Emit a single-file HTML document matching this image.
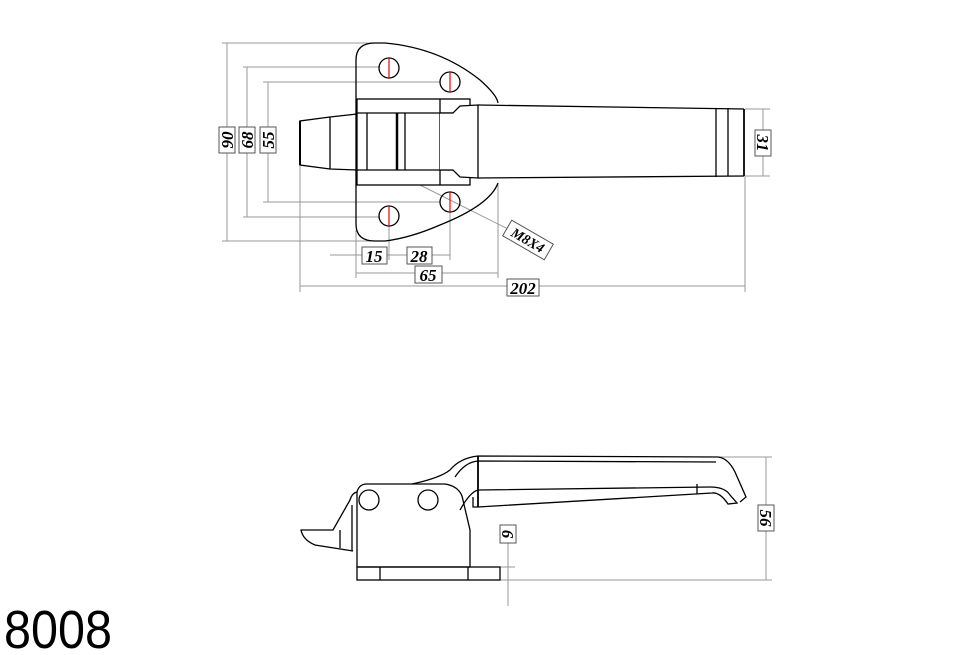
<!DOCTYPE html>
<html><head><meta charset="utf-8"><style>
html,body{margin:0;padding:0;background:#fff;}
svg{display:block}
.d{font-family:"Liberation Serif",serif;font-style:italic;font-weight:bold;}
</style></head><body>
<svg width="978" height="655" viewBox="0 0 978 655" xmlns="http://www.w3.org/2000/svg">
<g fill="none" stroke="#999" stroke-width="1">
 <line x1="222" y1="43" x2="380" y2="43"/>
 <line x1="222" y1="241" x2="380" y2="241"/>
 <line x1="227" y1="43" x2="227" y2="241"/>
 <line x1="243" y1="67" x2="380" y2="67"/>
 <line x1="243" y1="217" x2="380" y2="217"/>
 <line x1="247" y1="67" x2="247" y2="217"/>
 <line x1="263" y1="82" x2="440" y2="82"/>
 <line x1="263" y1="202" x2="440" y2="202"/>
 <line x1="268" y1="82" x2="268" y2="202"/>
 <line x1="300" y1="166" x2="300" y2="292"/>
 <line x1="300" y1="286" x2="745" y2="286"/>
 <line x1="745" y1="176" x2="745" y2="292"/>
 <line x1="356" y1="230" x2="356" y2="278"/>
 <line x1="356" y1="273" x2="498" y2="273"/>
 <line x1="498" y1="183" x2="498" y2="278"/>
 <line x1="330" y1="255" x2="450" y2="255"/>
 <line x1="389" y1="225" x2="389" y2="260"/>
 <line x1="450" y1="210" x2="450" y2="260"/>
 <line x1="745" y1="109" x2="770" y2="109"/>
 <line x1="745" y1="176" x2="770" y2="176"/>
 <line x1="763" y1="109" x2="763" y2="176"/>
 <line x1="420" y1="185" x2="510" y2="230"/>
 <line x1="718" y1="457" x2="772" y2="457"/>
 <line x1="500" y1="580" x2="772" y2="580"/>
 <line x1="766" y1="457" x2="766" y2="580"/>
 <line x1="500" y1="567" x2="515" y2="567"/>
 <line x1="508" y1="540" x2="508" y2="606"/>
</g>
<g class="d" font-size="17" fill="#000" stroke="none">
 <rect x="219" y="127" width="16" height="26" fill="#fff" stroke="#555"/>
 <text transform="translate(233,140) rotate(-90)" text-anchor="middle">90</text>
 <rect x="239" y="127" width="16" height="26" fill="#fff" stroke="#555"/>
 <text transform="translate(253,140) rotate(-90)" text-anchor="middle">68</text>
 <rect x="260" y="127" width="16" height="26" fill="#fff" stroke="#555"/>
 <text transform="translate(274,140) rotate(-90)" text-anchor="middle">55</text>
 <rect x="755" y="130" width="16" height="26" fill="#fff" stroke="#555"/>
 <text transform="translate(757,143) rotate(90)" text-anchor="middle">31</text>
 <rect x="362" y="247" width="25" height="17" fill="#fff" stroke="#555"/>
 <text x="374" y="262" text-anchor="middle">15</text>
 <rect x="407" y="247" width="25" height="17" fill="#fff" stroke="#555"/>
 <text x="419" y="262" text-anchor="middle">28</text>
 <rect x="415" y="266" width="27" height="17" fill="#fff" stroke="#555"/>
 <text x="428" y="281" text-anchor="middle">65</text>
 <rect x="507" y="279" width="32" height="17" fill="#fff" stroke="#555"/>
 <text x="523" y="294" text-anchor="middle">202</text>
 <g transform="translate(528,240) rotate(30)">
  <rect x="-24" y="-9" width="48" height="18" fill="#fff" stroke="#555"/>
  <text x="0" y="5" text-anchor="middle" font-size="14">M8X4</text>
 </g>
 <rect x="500" y="525" width="16" height="18" fill="#fff" stroke="#555"/>
 <text transform="translate(502,534) rotate(90)" text-anchor="middle">6</text>
 <rect x="758" y="505" width="16" height="26" fill="#fff" stroke="#555"/>
 <text transform="translate(760,518) rotate(90)" text-anchor="middle">56</text>
</g>
<g fill="none" stroke="#000" stroke-width="1.3">
 <path d="M356,224 L356,60 Q356,43 375,43 L385,43 Q440,48 480,80 Q497,95 498,103"/>
 <path d="M498,183 Q490,205 440,225 Q410,238 385,241 L375,241 Q356,241 356,224"/>
 <circle cx="389" cy="68" r="10"/><circle cx="450" cy="82" r="10"/>
 <circle cx="450" cy="202" r="10"/><circle cx="389" cy="216" r="10"/>
 <rect x="357" y="99" width="113" height="86" fill="#fff"/>
 <line x1="357" y1="113" x2="470" y2="113"/>
 <line x1="357" y1="170" x2="470" y2="170"/>
 <line x1="367" y1="113" x2="367" y2="170"/>
 <line x1="397" y1="113" x2="397" y2="170" stroke-width="2.5"/>
 <line x1="405" y1="113" x2="405" y2="170"/>
 <line x1="440" y1="99" x2="440" y2="185"/>
 <path d="M440,113 L453,113 L460,106 L478,105 L478,178 L460,177 L453,170 L440,170" fill="#fff"/>
 <line x1="478" y1="105" x2="744" y2="109"/>
 <line x1="478" y1="178" x2="744" y2="176"/>
 <line x1="716" y1="108" x2="716" y2="177"/>
 <line x1="728" y1="108" x2="728" y2="176"/>
 <line x1="744" y1="109" x2="744" y2="176" stroke-width="1.8"/>
 <path d="M357,114 L330,117 L300,121 L300,165 L330,169 L357,170"/>
 <line x1="300" y1="121" x2="300" y2="165" stroke-width="2"/>
 <line x1="330" y1="117" x2="330" y2="169"/>
</g>
<g stroke="#e00" stroke-width="1.2">
 <line x1="389" y1="58" x2="389" y2="78"/><line x1="450" y1="72" x2="450" y2="92"/>
 <line x1="450" y1="192" x2="450" y2="212"/><line x1="389" y1="206" x2="389" y2="226"/>
</g>
<g fill="none" stroke="#000" stroke-width="1.3">
 <rect x="357" y="567" width="143" height="13"/>
 <line x1="380" y1="567" x2="380" y2="580"/>
 <line x1="468" y1="567" x2="468" y2="580"/>
 <path d="M357,567 L357,492 Q359,484 367,484 L445,484 Q458,486 462,496 L470,530 L470,567 Z"/>
 <circle cx="369" cy="500" r="10"/><circle cx="428" cy="500" r="10"/>
 <path d="M357,492 Q352,493 350,500 L333,530 L301,530 Q303,540 315,545 L353,551"/>
 <line x1="340" y1="530" x2="340" y2="548"/>
 <line x1="352" y1="505" x2="352" y2="551"/>
 <path d="M412,484 Q440,478 450,470 Q460,458 478,456 L718,457 Q728,458 735,472 L746,497 L740,502"/>
 <path d="M455,477 Q465,462 478,461 L716,462"/>
 <path d="M460,510 Q470,492 478,490 L710,487 Q725,487 730,495 L737,503 L728,504 Q720,492 712,493 L478,507 L473,507 L473,497"/>
 <line x1="478" y1="456" x2="478" y2="507" stroke-width="1.8"/>
 <line x1="697" y1="484" x2="697" y2="494"/>
</g>
<text x="4" y="648" style="font-family:'Liberation Sans',sans-serif;font-style:normal" font-size="54" fill="#000" textLength="108" lengthAdjust="spacingAndGlyphs">8008</text>
</svg>
</body></html>
